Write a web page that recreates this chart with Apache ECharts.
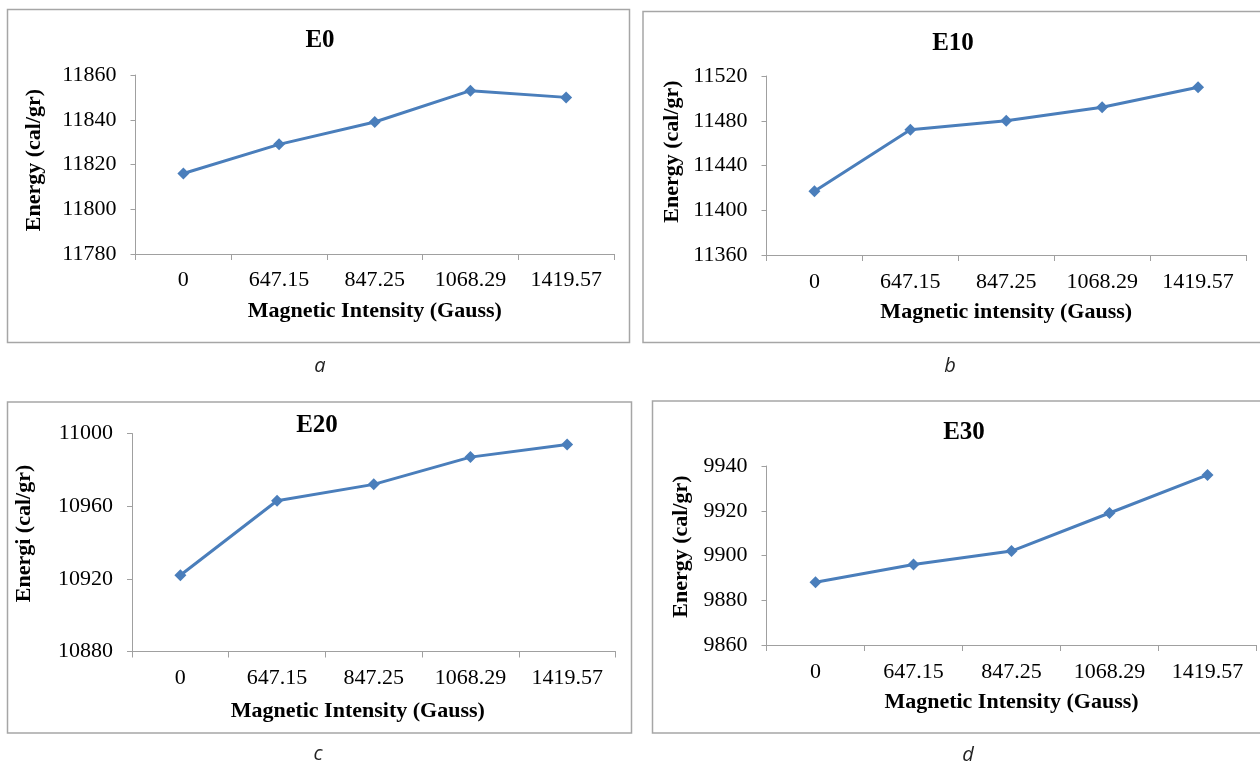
<!DOCTYPE html>
<html>
<head>
<meta charset="utf-8">
<script src="https://cdn.jsdelivr.net/npm/echarts@6/dist/echarts.min.js"></script>
<style>
html,body{margin:0;padding:0;background:#fff;}
#chart{width:1260px;height:762px;}
</style>
</head>
<body>
<div id="chart"></div>
<script>
// ---- data ----
const categories = ['0', '647.15', '847.25', '1068.29', '1419.57'];
const seriesE0 = [11816, 11829, 11839, 11853, 11850];
const seriesE10 = [11417, 11472, 11480, 11492, 11510];
const seriesE20 = [10922, 10963, 10972, 10987, 10994];
const seriesE30 = [9888, 9896, 9902, 9919, 9936];
const panelTitles = ['E0', 'E10', 'E20', 'E30'];
const captions = ['a', 'b', 'c', 'd'];
const xNames = ['Magnetic Intensity (Gauss)', 'Magnetic intensity (Gauss)', 'Magnetic Intensity (Gauss)', 'Magnetic Intensity (Gauss)'];
const yNames = ['Energy (cal/gr)', 'Energy (cal/gr)', 'Energi (cal/gr)', 'Energy (cal/gr)'];
const yMins = [11780, 11360, 10880, 9860];
const yMaxs = [11860, 11520, 11000, 9940];
const yIntervals = [20, 40, 40, 20];

// ---- layout ----
const SERIF = '"Liberation Serif", "Times New Roman", serif';
const grids = [
  {left: 135.5, top: 75, width: 478.5, height: 179},
  {left: 766.5, top: 76, width: 479.5, height: 179},
  {left: 132, top: 433.5, width: 483.5, height: 218},
  {left: 766.5, top: 466, width: 490, height: 179}
];
const xLabelMargin = [15, 16, 16, 16];
const xNameGap = [46, 46, 49, 46];
const xNamePad = [[0,0,0,0],[0,0,0,0],[0,32,0,0],[0,0,0,0]];
const yNameGap = [90, 83, 97, 74];
const yNamePad = [[0,0,0,9],[0,0,0,28],[0,0,0,18],[0,0,0,18]];
const titlePos = [[320, 42], [953, 45], [317, 427], [964, 434]];
const captionPos = [[320, 366], [950, 366], [318, 754], [968, 755]];
const boxes = [
  {x: 7.5, y: 9.5, width: 622, height: 333},
  {x: 643, y: 11.5, width: 640, height: 331},
  {x: 7.5, y: 402, width: 624, height: 331},
  {x: 652.5, y: 401, width: 640, height: 332}
];
const allData = [seriesE0, seriesE10, seriesE20, seriesE30];

const AXIS_COLOR = '#A0A0A0';
const LINE_COLOR = '#4A7EBB';

const option = {
  backgroundColor: '#fff',
  animation: false,
  title: panelTitles.map((t, i) => ({
    text: t,
    left: titlePos[i][0],
    top: titlePos[i][1] - 14,
    textAlign: 'center',
    padding: 0,
    textStyle: {fontFamily: SERIF, fontWeight: 'bold', fontSize: 25, color: '#000'}
  })),
  grid: grids.map(g => Object.assign({outerBoundsMode: 'none', containLabel: false}, g)),
  xAxis: grids.map((g, i) => ({
    type: 'category',
    gridIndex: i,
    data: categories,
    boundaryGap: true,
    name: xNames[i],
    nameLocation: 'middle',
    nameGap: xNameGap[i],
    nameTextStyle: {fontFamily: SERIF, fontWeight: 'bold', fontSize: 22, color: '#000', padding: xNamePad[i]},
    axisLine: {show: true, lineStyle: {color: AXIS_COLOR, width: 1}},
    axisTick: {show: true, length: 6, alignWithLabel: false, lineStyle: {color: AXIS_COLOR}},
    axisLabel: {fontFamily: SERIF, fontSize: 22, color: '#000', margin: xLabelMargin[i], interval: 0},
    splitLine: {show: false}
  })),
  yAxis: grids.map((g, i) => ({
    type: 'value',
    gridIndex: i,
    min: yMins[i],
    max: yMaxs[i],
    interval: yIntervals[i],
    name: yNames[i],
    nameLocation: 'middle',
    nameGap: yNameGap[i],
    nameTextStyle: {fontFamily: SERIF, fontWeight: 'bold', fontSize: 22, color: '#000', padding: yNamePad[i]},
    axisLine: {show: true, lineStyle: {color: AXIS_COLOR, width: 1}},
    axisTick: {show: true, length: 5, lineStyle: {color: AXIS_COLOR}},
    axisLabel: {fontFamily: SERIF, fontSize: 22, color: '#000', margin: 19, formatter: v => String(v)},
    splitLine: {show: false}
  })),
  series: allData.map((d, i) => ({
    type: 'line',
    name: panelTitles[i],
    xAxisIndex: i,
    yAxisIndex: i,
    data: d,
    symbol: 'diamond',
    symbolSize: 12,
    lineStyle: {color: LINE_COLOR, width: 3},
    itemStyle: {color: LINE_COLOR},
    z: 3
  })),
  graphic: [
    ...boxes.map(b => ({
      type: 'rect',
      shape: b,
      style: {fill: 'none', stroke: '#A6A6A6', lineWidth: 1.5},
      silent: true,
      z: -1
    })),
    ...captions.map((c, i) => ({
      type: 'text',
      x: captionPos[i][0],
      y: captionPos[i][1],
      style: {
        text: c,
        fontFamily: '"Open Sans", "Noto Sans", sans-serif',
        fontStyle: 'italic',
        fontSize: 20,
        fill: '#222',
        align: 'center',
        verticalAlign: 'middle'
      }
    }))
  ]
};

const chart = echarts.init(document.getElementById('chart'), null, {renderer: 'canvas'});
chart.setOption(option);
</script>
</body>
</html>
